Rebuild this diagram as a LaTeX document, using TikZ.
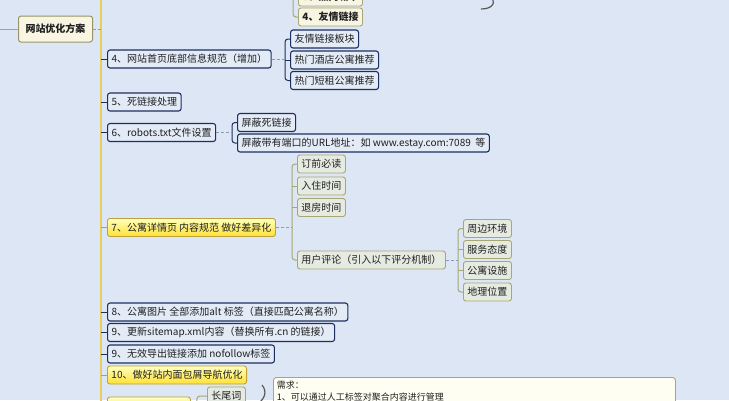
\documentclass[tikz,border=0pt]{standalone}
\usepackage{fontspec}
\setmainfont{Noto Sans CJK SC}
\usepackage{tikz}
\usetikzlibrary{calc, positioning}
\definecolor{mapback}{HTML}{DCE6F4}
\definecolor{mapnavy}{HTML}{1C2F5E}
\definecolor{mapbluefill}{HTML}{E3EBF7}
\definecolor{mapolive}{HTML}{A8A672}
\definecolor{mapolivefill}{HTML}{E6EBE2}
\definecolor{mapcream}{HTML}{F8F6E2}
\definecolor{mapgold}{HTML}{BFA13A}
\definecolor{maptrunk}{HTML}{E6CD5E}
\definecolor{maptext}{HTML}{202020}
\definecolor{mapfold}{HTML}{8C9AB8}
\tikzset{
    mapnode/.style = {draw, rectangle, rounded corners=0.25em, inner xsep=0.4em, inner ysep=0em,
      minimum height=18pt, anchor=west, text=maptext, font=\fontsize{10}{11}\selectfont},
    bluenode/.style = {mapnode, draw=mapnavy, fill=mapbluefill, line width=1.1pt},
    olivenode/.style = {mapnode, draw=mapolive, fill=mapolivefill, line width=0.9pt},
    creamnode/.style = {mapnode, draw=mapolive, fill=mapcream, line width=0.9pt},
    yellownode/.style = {mapnode, draw=mapgold, top color=yellow!25!white, bottom color=yellow!70!orange!80!white, line width=0.9pt},
    rootnode/.style = {mapnode, draw=mapolive!90!black, fill=mapcream, line width=1pt, minimum height=26pt,
      minimum width=74pt, font=\fontsize{10}{12}\selectfont\bfseries},
    notenode/.style = {draw=mapolive, fill=yellow!5!white, rectangle, rounded corners=0.3em, line width=0.9pt,
      anchor=north west, align=left, inner sep=0.35em, text=maptext, font=\fontsize{9}{12}\selectfont},
    trunk/.style = {maptrunk, line width=1.8pt},
    navylink/.style = {mapnavy, line width=1pt, rounded corners=3pt},
    olivelink/.style = {mapolive, line width=1pt, rounded corners=3pt},
    goldlink/.style = {mapgold, line width=1pt},
    fold/.style = {mapfold, densely dashed, line width=0.5pt},
    brace/.style = {gray!70!black, line width=1.2pt}
}

\begin{document}
\begin{tikzpicture}[x=1pt, y=-1pt]
    \fill [mapback] (0,0) rectangle (729,400);
    \useasboundingbox (0,0) rectangle (729,400);
    \clip (0,0) rectangle (729,400);

    % trunk and root
    \coordinate (trunktop) at (101,-10);
    \coordinate (trunkbot) at (101,410);
    \coordinate (rootin) at (-5,29);
    \draw [trunk] (trunktop) -- (trunkbot);
    \node [name=root, rootnode] at (18,29) {网站优化方案};
    \draw [olivelink] (rootin) -- (root.west);
    \draw [fold] (root.east) -- (root.east -| trunktop);

    % top branch (cut off)
    \coordinate (topin) at (293,-10);
    \node [name=t3, creamnode, font=\fontsize{10}{11}\selectfont\bfseries] at (298,-3) {3、热门城市};
    \node [name=t4, creamnode, font=\fontsize{10}{11}\selectfont\bfseries] at (298,17) {4、友情链接};
    \draw [olivelink] (topin) |- (t4.west);
    \draw [olivelink] (t3.west) -- (t3.west -| topin);
    \draw [brace] (488,-6) .. controls (498,2) and (493,9) .. (481,9);

    % main branches
    \node [name=n4, bluenode] at (107,59) {4、网站首页底部信息规范（增加）};
    \node [name=n5, bluenode] at (107,102) {5、死链接处理};
    \node [name=n6, bluenode] at (107,132.5) {6、robots.txt文件设置};
    \node [name=n7, yellownode] at (107,227.5) {7、公寓详情页 内容规范 做好差异化};
    \node [name=n8, bluenode] at (107,312) {8、公寓图片 全部添加alt 标签（直接匹配公寓名称）};
    \node [name=n9, bluenode] at (107,332.5) {9、更新sitemap.xml内容（替换所有.cn 的链接）};
    \node [name=n9b, bluenode] at (107,354) {9、无效导出链接添加 nofollow标签};
    \node [name=n10, yellownode] at (107,375) {10、做好站内面包屑导航优化};
    \node [name=n11, yellownode, minimum width=83pt] at (107,406) {};
    \foreach \n in {n4, n5, n6, n8, n9, n9b}
        \draw [navylink] (\n.west) -- (\n.west -| trunktop);
    \foreach \n in {n7, n10, n11}
        \draw [goldlink] (\n.west) -- (\n.west -| trunktop);

    % children of 4
    \node [name=f1, bluenode] at (290,39) {友情链接板块};
    \node [name=f2, bluenode] at (290,60) {热门酒店公寓推荐};
    \node [name=f3, bluenode] at (290,80.5) {热门短租公寓推荐};
    \draw [navylink] (f1.west) -- ++(-5,0) |- (f3.west);
    \draw [navylink] (f2.west) -- ++(-5,0);
    \draw [fold] (n4.east) -- ([xshift=-5pt]f2.west |- n4.east);

    % children of 6
    \node [name=r1, bluenode] at (237,122.5) {屏蔽死链接};
    \node [name=r2, bluenode] at (237,143) {屏蔽带有端口的URL地址：如 www.estay.com:7089\ \ 等};
    \draw [navylink] (r1.west) -- ++(-5,0) |- (r2.west);
    \draw [fold] (n6.east) -- ([xshift=-5pt]r1.west |- n6.east);

    % children of 7
    \node [name=k1, olivenode] at (297,164) {订前必读};
    \node [name=k2, olivenode] at (297,186) {入住时间};
    \node [name=k3, olivenode] at (297,207.5) {退房时间};
    \node [name=k4, olivenode] at (297,260) {用户评论（引入以下评分机制）};
    \draw [olivelink] (k1.west) -- ++(-5,0) |- (k4.west);
    \foreach \k in {k2, k3}
        \draw [olivelink] (\k.west) -- ++(-5,0);
    \draw [fold] (n7.east) -- ([xshift=-5pt]k1.west |- n7.east);

    % children of user reviews
    \node [name=g1, olivenode] at (463,228.5) {周边环境};
    \node [name=g2, olivenode] at (463,249.5) {服务态度};
    \node [name=g3, olivenode] at (463,270.5) {公寓设施};
    \node [name=g4, olivenode] at (463,292) {地理位置};
    \draw [olivelink] (g1.west) -- ++(-5,0) |- (g4.west);
    \foreach \g in {g2, g3}
        \draw [olivelink] (\g.west) -- ++(-5,0);
    \draw [fold] (k4.east) -- ([xshift=-5pt]g1.west |- k4.east);

    % bottom (cut off)
    \node [name=w1, olivenode] at (207,396) {长尾词};
    \draw [olivelink] (n11.east) -- ++(6,0) |- (w1.west);
    \draw [brace] (262,385) .. controls (268,392) and (264,400) .. (257,404);
    \node [name=note, notenode, text width=395pt] at (273,377) {需求：\\1、可以通过人工标签对聚合内容进行管理\\\ };
\end{tikzpicture}
\end{document}
